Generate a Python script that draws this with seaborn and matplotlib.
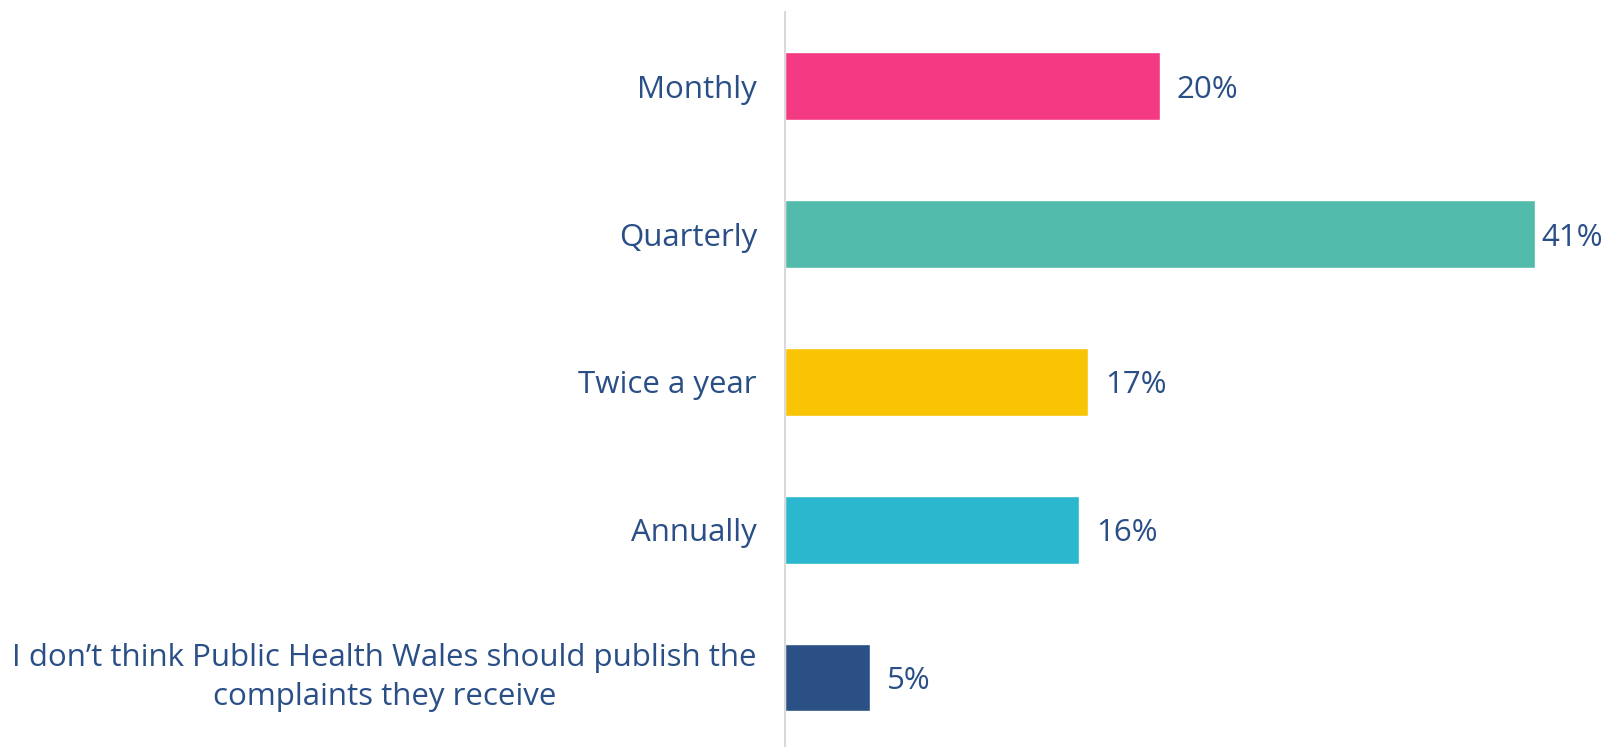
import matplotlib
matplotlib.use("Agg")
from matplotlib import pyplot as plt
import seaborn as sns
import pandas as pd

# data (bar lengths estimated, labels as printed)
categories = ["Monthly", "Quarterly", "Twice a year", "Annually",
              "I don\u2019t think Public Health Wales should publish the\ncomplaints they receive"]
values = [20.5, 41, 16.6, 16.1, 4.65]
value_labels = ["20%", "41%", "17%", "16%", "5%"]
colours = ["#f33a82", "#52bbab", "#f9c404", "#2bb7ce", "#2a5085"]

text_col = "#2a4f86"

sns.set_style("white")
plt.rcParams['font.family'] = ['Open Sans', 'DejaVu Sans']

df = pd.DataFrame({"category": categories, "value": values})

fig = plt.figure(figsize=(16.08, 7.47), dpi=100)
ax = fig.add_axes([0.488, 0.0, 0.512, 0.9835])

sns.barplot(data=df, x="value", y="category", hue="category",
            palette=colours, width=0.458, legend=False, ax=ax, saturation=1)

ax.set_xlim(0, 45)
ax.set_ylim(4.47, -0.5)
ax.set_xlabel("")
ax.set_ylabel("")
ax.set_xticks([])

# one container per hue level; the long bar's label sits closer so it fits
for c, lab, v in zip(ax.containers, value_labels, values):
    pad = 5 if v > 40 else 12
    texts = ax.bar_label(c, labels=[lab], padding=pad, fontsize=22.5, color=text_col)
    for t in texts:
        t.set_verticalalignment("center_baseline")

ax.tick_params(axis="y", length=0, pad=20, labelsize=22.5, labelcolor=text_col)
for lab in ax.get_yticklabels():
    lab.set_horizontalalignment("right")
    lab.set_multialignment("center")
    lab.set_linespacing(1.4)
    if "\n" in lab.get_text():
        lab.set_verticalalignment("center")

for s in ["top", "right", "bottom"]:
    ax.spines[s].set_visible(False)
ax.spines["left"].set_color("#d9d9d9")
ax.spines["left"].set_linewidth(1.5)

fig.savefig("out.png", dpi=100)
